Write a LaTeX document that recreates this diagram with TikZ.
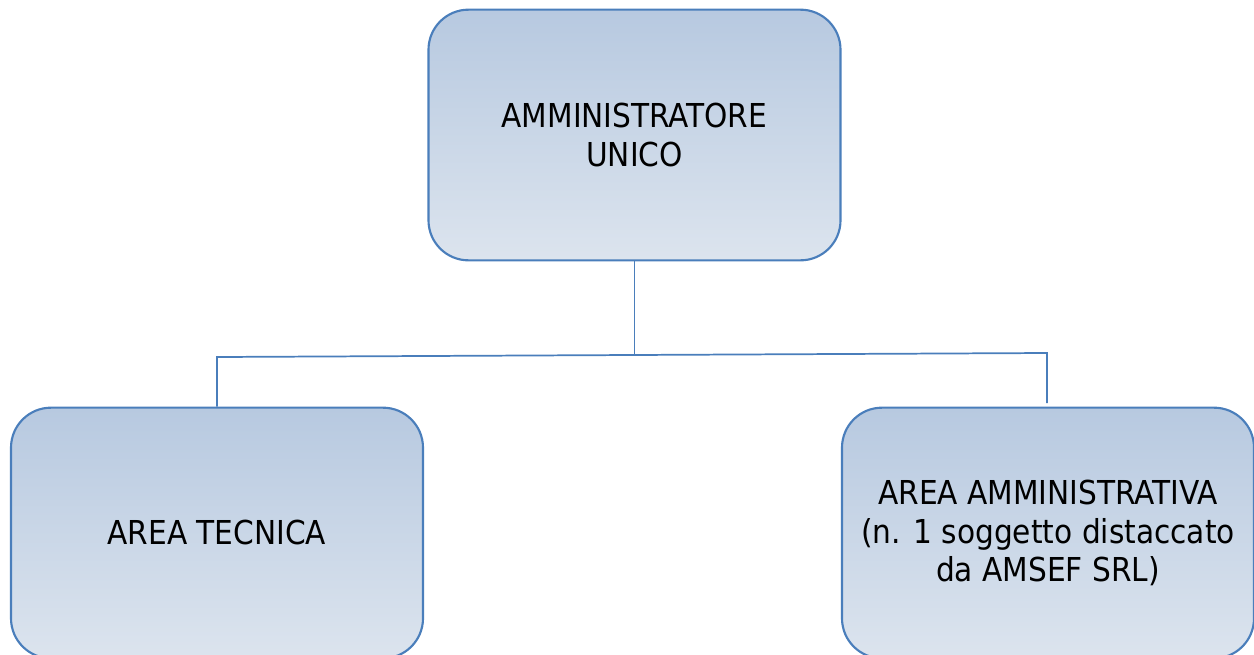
\documentclass[tikz,border=0pt]{standalone}
\usepackage{fontspec}
\setmainfont{DejaVu Sans Condensed}
\definecolor{bordo}{HTML}{4A7EBB}
\definecolor{topc}{HTML}{B7C9E0}
\definecolor{botc}{HTML}{DCE4EE}
\begin{document}
\begin{tikzpicture}[x=0.75pt,y=-0.75pt,
  orgbox/.style={draw=bordo, line width=1.6pt, rounded corners=30pt,
    top color=topc, bottom color=botc, minimum width=309pt, minimum height=188pt,
    align=center, inner sep=0pt, font=\fontsize{24.7}{29.2}\selectfont},
  conn/.style={draw=bordo, line width=1.3pt}]
\useasboundingbox (0,0) rectangle (1254,654);
\node[orgbox] (top) at (634.5,135) {AMMINISTRATORE\\UNICO};
\node[orgbox] (left) at (217,533) {AREA TECNICA};
\node[orgbox] (right) at (1048,533) {AREA AMMINISTRATIVA\\(n. 1 soggetto distaccato\\da AMSEF SRL)};
\coordinate (hm) at (634.5,355);
\coordinate (hl) at (217,357);
\coordinate (hr) at (1047,353);
\coordinate (re) at (1047,403);
\draw[conn] (top.south) -- (hm);
\draw[conn] (left.north) -- (hl) -- (hr) -- (re);
\end{tikzpicture}
\end{document}
